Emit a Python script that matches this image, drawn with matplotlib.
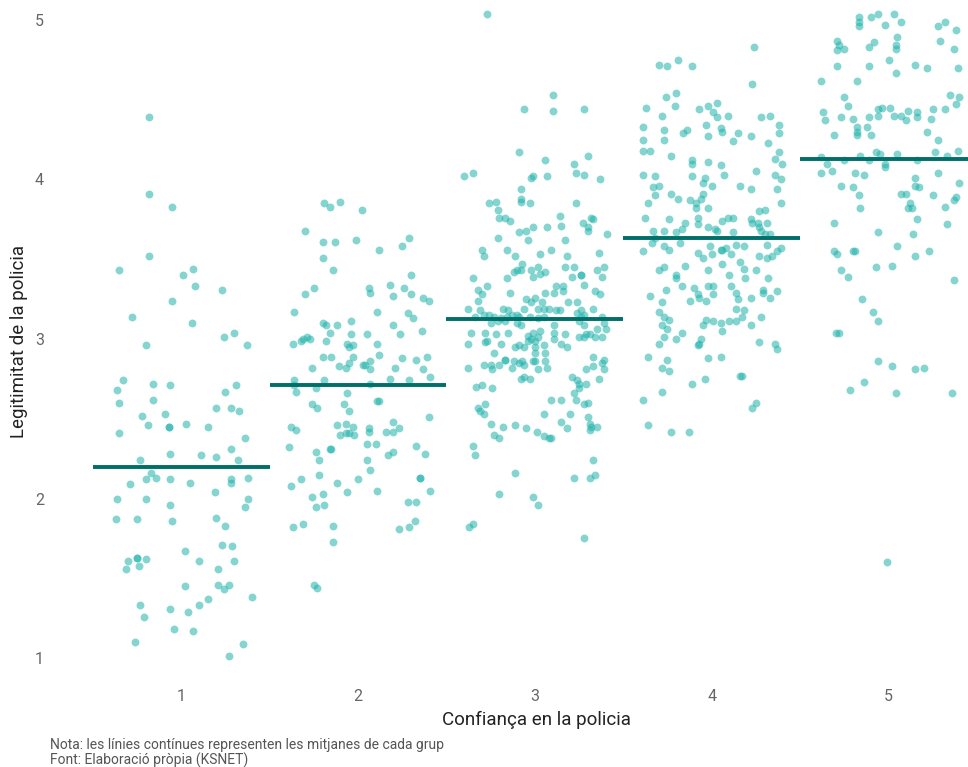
import matplotlib
matplotlib.use("Agg")
import matplotlib.pyplot as plt

# Confiança en la policia (grups) i mitjana de legitimitat per grup
grups = [1, 2, 3, 4, 5]
mitjanes = [2.20, 2.71, 3.125, 3.63, 4.13]

# --- Grup 1: desplaçament horitzontal (jitter) i valor de legitimitat ---
off1 = [-0.18, -0.18, -0.05, -0.18, -0.35, 0.01, 0.07, 0.08, 0.23, -0.05, -0.28, 0.06, 0.30, 0.24, -0.20, 0.37,
        -0.33, -0.16, -0.06, 0.31, -0.36, 0.25, -0.35, -0.16, 0.20, 0.28, 0.33, -0.22, -0.09, -0.19, -0.07, -0.07,
        0.03, 0.15, -0.35, 0.36, 0.28, -0.06, 0.11, 0.20, -0.23, 0.32,
        -0.17, -0.14, -0.20, -0.06, 0.05, 0.28, 0.28, 0.38, -0.29, 0.19, -0.36, -0.20, 0.38, -0.06, 0.36, -0.37,
        -0.25, -0.05, 0.20, 0.25, 0.23, 0.29, 0.02, -0.25, -0.25, -0.30, -0.20, -0.24, -0.31, 0.10, 0.30, 0.21,
        0.02, 0.21, 0.27, 0.24, 0.40, 0.15, 0.10, -0.23, -0.06, 0.04, -0.21, -0.04, 0.07, -0.26, 0.35, 0.27]
y1 = [4.39, 3.91, 3.83, 3.52, 3.43, 3.40, 3.44, 3.33, 3.31, 3.24, 3.14, 3.10, 3.04, 3.01, 2.96, 2.96,
      2.74, 2.72, 2.71, 2.71, 2.68, 2.67, 2.60, 2.62, 2.57, 2.57, 2.55, 2.52, 2.53, 2.46, 2.45, 2.45,
      2.47, 2.45, 2.41, 2.38, 2.31, 2.28, 2.27, 2.26, 2.24, 2.24,
      2.16, 2.13, 2.12, 2.12, 2.10, 2.12, 2.10, 2.13, 2.09, 2.04, 2.00, 2.00, 2.00, 1.96, 1.95, 1.87,
      1.87, 1.86, 1.88, 1.83, 1.71, 1.70, 1.67, 1.63, 1.63, 1.61, 1.62, 1.58, 1.56, 1.61, 1.61, 1.56,
      1.45, 1.46, 1.46, 1.43, 1.38, 1.37, 1.33, 1.33, 1.31, 1.29, 1.26, 1.18, 1.17, 1.10, 1.09, 1.01]

# --- Grup 2 ---
off2 = [-0.19, -0.16, -0.10, 0.02, -0.30, -0.20, -0.13, -0.01, 0.12, 0.25,
        0.29, -0.20, -0.14, 0.30, -0.25, -0.30, 0.06, 0.07, 0.18, 0.26,
        0.20, 0.30, 0.37, 0.40, -0.36, 0.11, 0.28, 0.31, -0.20, -0.18,
        -0.12, -0.04, 0.20, -0.16, -0.04, 0.05, 0.24, 0.36, -0.37, -0.32,
        -0.31, -0.29, -0.27, -0.18, -0.06, -0.05, -0.03, 0.11, -0.20, -0.15,
        -0.03, 0.12, 0.25, 0.33, 0.39, -0.26, -0.11, -0.07, -0.05, 0.03,
        0.04, 0.07, 0.07, 0.21, 0.37, 0.41, 0.18, 0.29, -0.36, -0.19,
        -0.36, 0.07, -0.35, -0.24, -0.06, -0.26, 0.11, 0.12, -0.23, -0.08,
        -0.05, -0.38, -0.35, -0.12, -0.07, -0.03, -0.10, -0.07, -0.05, -0.02,
        0.06, 0.06, 0.16, 0.20, 0.20, 0.23, 0.40, -0.39, -0.24, -0.22,
        -0.16, -0.15, 0.05, 0.10, 0.17, 0.20, 0.33, 0.38, 0.05, 0.07,
        -0.22, -0.32, -0.38, -0.12, 0.00, -0.06, 0.11, 0.35, 0.35, 0.41,
        -0.26, -0.20, -0.24, -0.19, 0.28, 0.33, -0.37, -0.31, -0.14, 0.32,
        0.29, 0.23, -0.14, -0.25, -0.23]
y2 = [3.85, 3.83, 3.86, 3.81, 3.68, 3.61, 3.61, 3.62, 3.56, 3.58,
      3.63, 3.51, 3.43, 3.40, 3.32, 3.28, 3.32, 3.29, 3.34, 3.32,
      3.27, 3.28, 3.26, 3.24, 3.17, 3.17, 3.16, 3.13, 3.10, 3.09,
      3.09, 3.11, 3.09, 3.04, 3.03, 3.03, 3.03, 3.05, 2.97, 2.99,
      3.00, 3.01, 3.00, 2.99, 2.97, 2.95, 2.96, 2.97, 2.89, 2.89,
      2.89, 2.90, 2.88, 2.87, 2.89, 2.82, 2.83, 2.82, 2.85, 2.84,
      2.84, 2.81, 2.86, 2.82, 2.81, 2.76, 2.75, 2.74, 2.74, 2.74,
      2.71, 2.72, 2.67, 2.69, 2.66, 2.59, 2.61, 2.61, 2.57, 2.59,
      2.55, 2.45, 2.43, 2.46, 2.47, 2.45, 2.40, 2.41, 2.41, 2.40,
      2.44, 2.42, 2.42, 2.48, 2.42, 2.44, 2.51, 2.32, 2.29, 2.24,
      2.31, 2.31, 2.34, 2.34, 2.27, 2.29, 2.33, 2.28, 2.24, 2.18,
      2.15, 2.12, 2.08, 2.10, 2.12, 2.04, 2.05, 2.13, 2.13, 2.05,
      2.01, 2.03, 1.95, 1.96, 1.98, 1.98, 1.82, 1.84, 1.83, 1.86,
      1.82, 1.81, 1.73, 1.46, 1.44]

# --- Grup 3 ---
off3 = [-0.27, 0.10, -0.06, 0.10, 0.28, -0.09, 0.30, 0.06, 0.22, -0.40,
        -0.35, -0.02, -0.01, 0.07, 0.23, 0.28, 0.37, -0.08, -0.08, -0.08,
        -0.03, -0.26, -0.22, 0.23, -0.21, -0.20, -0.17, -0.14, 0.14, 0.32,
        0.33, 0.27, 0.15, -0.09, -0.05, -0.01, 0.07, 0.30, 0.30, 0.41,
        -0.21, -0.04, 0.17, -0.30, -0.29, -0.16, 0.09, -0.11, 0.03, 0.18,
        0.36, -0.07, -0.12, -0.10, -0.08, -0.02, 0.02, 0.03, 0.06, -0.01,
        0.17, 0.22, 0.26, 0.26, 0.21, 0.35, 0.39, 0.38, -0.35, -0.16,
        0.28, -0.32, -0.27, 0.12, 0.16, -0.30, -0.32, -0.14, 0.06, 0.11,
        0.16, 0.34, 0.37, -0.05, 0.00, -0.02, 0.04, 0.19, 0.24, -0.38,
        -0.18, -0.15, -0.06, 0.02, 0.05, 0.08, 0.12, 0.14, 0.33, 0.26,
        -0.31, -0.34, -0.29, -0.26, -0.23, -0.19, -0.16, -0.13, -0.10, -0.09,
        -0.03, 0.02, 0.05, 0.24, 0.26, 0.28, 0.38, -0.25, -0.21, -0.17,
        -0.10, -0.08, 0.11, 0.25, 0.28, 0.39, 0.40, -0.36, -0.28, -0.22,
        -0.15, -0.04, -0.01, 0.03, 0.11, 0.17, 0.29, 0.31, 0.35, -0.38,
        -0.28, -0.27, -0.19, -0.04, -0.02, 0.00, 0.02, 0.11, 0.15, 0.18,
        0.25, 0.28, 0.34, 0.38, -0.11, -0.09, -0.06, 0.00, 0.05, -0.23,
        0.00, 0.06, 0.33, -0.17, -0.17, -0.12, -0.09, -0.07, -0.01, 0.00,
        0.06, 0.39, -0.29, -0.25, -0.20, -0.13, -0.06, 0.02, 0.07, 0.33,
        0.29, 0.38, -0.38, -0.24, 0.39, -0.08, -0.06, -0.03, 0.21, 0.24,
        0.25, 0.29, 0.36, -0.33, -0.30, -0.24, 0.25, 0.22, 0.23, 0.09,
        0.15, -0.32, -0.28, -0.31, -0.29, 0.28, 0.30, 0.05, 0.20, 0.30,
        -0.25, -0.18, -0.11, 0.15, 0.31, 0.32, 0.35, 0.18, 0.31, -0.05,
        0.01, -0.23, -0.20, 0.05, 0.08, 0.09, -0.35, -0.34, 0.33, -0.11,
        0.22, 0.31, 0.34, -0.20, -0.01, 0.02, -0.37, -0.35, 0.28]
y3 = [5.04, 4.53, 4.44, 4.43, 4.44, 4.17, 4.15, 4.12, 4.10, 4.02,
      4.04, 4.01, 4.02, 4.02, 4.04, 4.03, 4.00, 3.94, 3.88, 3.86,
      3.85, 3.85, 3.86, 3.85, 3.81, 3.76, 3.76, 3.74, 3.77, 3.76,
      3.75, 3.73, 3.71, 3.67, 3.68, 3.70, 3.70, 3.70, 3.68, 3.66,
      3.63, 3.62, 3.62, 3.56, 3.52, 3.56, 3.56, 3.52, 3.53, 3.52,
      3.54, 3.47, 3.42, 3.43, 3.43, 3.43, 3.45, 3.41, 3.42, 3.39,
      3.45, 3.45, 3.40, 3.40, 3.39, 3.43, 3.45, 3.39, 3.38, 3.38,
      3.34, 3.31, 3.33, 3.33, 3.33, 3.28, 3.24, 3.29, 3.29, 3.29,
      3.30, 3.30, 3.28, 3.25, 3.26, 3.23, 3.23, 3.23, 3.23, 3.19,
      3.19, 3.18, 3.19, 3.19, 3.19, 3.19, 3.18, 3.18, 3.19, 3.18,
      3.18, 3.14, 3.15, 3.15, 3.14, 3.13, 3.14, 3.15, 3.15, 3.14,
      3.14, 3.13, 3.14, 3.16, 3.14, 3.15, 3.14, 3.10, 3.11, 3.11,
      3.10, 3.09, 3.09, 3.11, 3.09, 3.10, 3.06, 3.04, 3.04, 3.03,
      3.04, 3.02, 3.04, 3.05, 3.04, 3.03, 3.03, 3.03, 3.06, 2.97,
      2.98, 2.99, 2.97, 2.99, 3.00, 2.99, 3.01, 3.00, 2.97, 2.95,
      3.01, 3.01, 3.01, 3.01, 2.95, 2.96, 2.95, 2.95, 2.96, 2.91,
      2.91, 2.91, 2.89, 2.87, 2.87, 2.86, 2.85, 2.86, 2.86, 2.86,
      2.86, 2.87, 2.84, 2.84, 2.84, 2.82, 2.84, 2.81, 2.82, 2.83,
      2.81, 2.85, 2.82, 2.81, 2.81, 2.75, 2.76, 2.75, 2.76, 2.74,
      2.72, 2.72, 2.75, 2.70, 2.71, 2.69, 2.69, 2.66, 2.62, 2.62,
      2.62, 2.57, 2.59, 2.55, 2.53, 2.59, 2.60, 2.53, 2.53, 2.51,
      2.47, 2.45, 2.46, 2.48, 2.47, 2.45, 2.45, 2.44, 2.43, 2.44,
      2.42, 2.40, 2.38, 2.39, 2.38, 2.38, 2.33, 2.27, 2.24, 2.16,
      2.13, 2.13, 2.15, 2.03, 2.01, 1.96, 1.82, 1.84, 1.75]

# --- Grup 4 ---
off4 = [0.24, -0.30, -0.25, -0.19, -0.11, 0.23, -0.26, -0.20, -0.21, -0.37,
        -0.28, -0.07, -0.02, 0.03, 0.01, 0.03, 0.09, 0.28, 0.33, -0.39,
        -0.27, 0.38, -0.03, 0.05, 0.06, -0.16, -0.14, 0.15, 0.38, -0.39,
        -0.27, -0.02, 0.12, 0.22, 0.32, -0.39, -0.35, -0.23, 0.38, 0.36,
        0.40, -0.11, -0.11, -0.02, 0.05, -0.39, -0.32, -0.11, -0.04, 0.07,
        0.25, 0.36, 0.39, -0.05, -0.33, -0.30, 0.00, 0.16, 0.22, 0.37,
        -0.32, -0.23, -0.19, -0.05, -0.06, -0.36, -0.12, -0.09, -0.09, -0.02,
        0.39, 0.27, 0.30, -0.38, -0.24, -0.08, -0.08, -0.15, 0.06, 0.09,
        0.12, 0.22, 0.23, 0.26, 0.31, -0.02, 0.02, 0.03, 0.12, -0.33,
        -0.27, -0.20, -0.17, 0.27, 0.28, 0.30, 0.33, -0.32, -0.18, -0.34,
        -0.27, -0.24, -0.01, 0.05, 0.06, 0.08, 0.14, 0.18, 0.31, 0.39,
        -0.39, -0.08, -0.05, 0.00, 0.11, 0.27, 0.31, 0.34, 0.37, 0.06,
        0.16, -0.15, -0.30, -0.27, -0.02, 0.18, 0.25, -0.20, 0.10, 0.19,
        0.32, -0.20, -0.17, -0.26, -0.35, -0.28, -0.10, -0.08, -0.07, -0.12,
        -0.03, -0.02, 0.01, 0.01, 0.11, 0.14, 0.15, 0.22, 0.29, 0.29,
        0.33, 0.37, -0.30, -0.27, -0.24, -0.28, -0.25, -0.27, -0.30, -0.17,
        -0.20, 0.14, 0.18, 0.17, -0.03, -0.05, 0.01, 0.05, 0.06, 0.10,
        0.14, 0.22, 0.28, -0.06, -0.07, -0.08, 0.27, 0.36, 0.37, -0.36,
        -0.25, -0.28, -0.24, -0.02, 0.05, -0.04, -0.11, 0.16, 0.17, -0.28,
        -0.39, 0.25, 0.23, -0.36, -0.23, -0.13]
y4 = [4.83, 4.72, 4.71, 4.75, 4.71, 4.60, 4.52, 4.54, 4.46, 4.45,
      4.40, 4.44, 4.46, 4.48, 4.42, 4.39, 4.40, 4.39, 4.40, 4.33,
      4.31, 4.34, 4.34, 4.32, 4.30, 4.29, 4.31, 4.29, 4.29, 4.25,
      4.25, 4.27, 4.24, 4.27, 4.23, 4.18, 4.18, 4.15, 4.17, 4.13,
      4.10, 4.12, 4.10, 4.11, 4.09, 4.03, 4.02, 4.02, 4.01, 4.03,
      4.05, 4.03, 4.00, 3.98, 3.95, 3.96, 3.96, 3.96, 3.94, 3.94,
      3.90, 3.91, 3.88, 3.91, 3.88, 3.85, 3.87, 3.85, 3.82, 3.82,
      3.85, 3.80, 3.81, 3.76, 3.75, 3.76, 3.72, 3.73, 3.74, 3.76,
      3.76, 3.75, 3.73, 3.73, 3.73, 3.70, 3.69, 3.68, 3.67, 3.68,
      3.68, 3.67, 3.69, 3.70, 3.68, 3.66, 3.66, 3.63, 3.60, 3.60,
      3.58, 3.56, 3.58, 3.56, 3.56, 3.57, 3.59, 3.58, 3.59, 3.57,
      3.55, 3.54, 3.51, 3.53, 3.53, 3.52, 3.51, 3.52, 3.55, 3.47,
      3.48, 3.46, 3.43, 3.45, 3.43, 3.44, 3.43, 3.40, 3.40, 3.38,
      3.38, 3.38, 3.33, 3.31, 3.27, 3.23, 3.32, 3.28, 3.26, 3.24,
      3.24, 3.33, 3.33, 3.28, 3.33, 3.29, 3.25, 3.26, 3.31, 3.29,
      3.26, 3.30, 3.17, 3.14, 3.12, 3.09, 3.06, 3.01, 2.97, 3.04,
      3.00, 3.19, 3.18, 3.14, 3.12, 3.09, 3.11, 3.10, 3.05, 3.11,
      3.11, 3.09, 3.14, 3.00, 2.97, 2.96, 2.98, 2.97, 2.94, 2.89,
      2.87, 2.82, 2.80, 2.88, 2.89, 2.75, 2.72, 2.77, 2.77, 2.67,
      2.62, 2.60, 2.57, 2.46, 2.42, 2.42]

# --- Grup 5 ---
off5 = [-0.17, -0.17, -0.17, -0.10, -0.06, 0.03, 0.07, -0.02, 0.28, 0.32,
        0.38, 0.05, -0.29, -0.28, -0.29, -0.25, -0.11, -0.08, 0.04, 0.04,
        0.29, 0.37, 0.00, -0.29, -0.11, 0.04, 0.15, 0.22, 0.39, -0.38,
        -0.18, 0.35, 0.40, -0.25, -0.23, 0.38, -0.37, -0.36, -0.27, -0.20,
        -0.11, -0.06, -0.06, -0.04, 0.01, 0.03, 0.07, 0.11, 0.10, 0.16,
        0.16, 0.24, 0.25, 0.32, -0.18, -0.18, -0.18, -0.12, -0.10, -0.31,
        0.22, 0.28, 0.26, 0.39, -0.38, -0.16, -0.07, -0.05, 0.05, 0.33,
        -0.35, -0.25, -0.11, -0.02, -0.02, 0.16, -0.38, -0.32, -0.19, -0.14,
        0.28, 0.15, 0.40, -0.27, -0.20, 0.15, 0.17, -0.17, 0.07, 0.10,
        0.25, 0.38, 0.37, -0.16, 0.12, 0.11, 0.13, 0.32, 0.16, -0.31,
        0.33, -0.06, 0.14, 0.05, -0.31, -0.29, -0.20, -0.19, 0.15, 0.23,
        -0.27, -0.23, -0.07, 0.02, 0.37, -0.15, -0.09, -0.06, -0.30, -0.28,
        -0.06, 0.02, 0.15, 0.20, -0.14, -0.22, 0.04, 0.36, -0.01]
y5 = [5.02, 4.99, 4.96, 5.02, 5.04, 5.04, 4.99, 4.97, 4.96, 4.99,
      4.94, 4.89, 4.87, 4.84, 4.81, 4.82, 4.83, 4.86, 4.84, 4.82,
      4.87, 4.82, 4.75, 4.71, 4.71, 4.67, 4.72, 4.70, 4.70, 4.62,
      4.62, 4.53, 4.52, 4.52, 4.46, 4.47, 4.42, 4.37, 4.39, 4.38,
      4.39, 4.40, 4.44, 4.45, 4.45, 4.40, 4.40, 4.43, 4.37, 4.42,
      4.39, 4.38, 4.44, 4.44, 4.33, 4.30, 4.28, 4.33, 4.28, 4.28,
      4.30, 4.25, 4.17, 4.18, 4.14, 4.15, 4.17, 4.16, 4.16, 4.15,
      4.10, 4.12, 4.12, 4.10, 4.08, 4.12, 4.04, 4.05, 4.04, 4.03,
      4.04, 4.01, 3.98, 3.96, 3.95, 3.96, 3.95, 3.90, 3.91, 3.91,
      3.90, 3.89, 3.87, 3.82, 3.85, 3.82, 3.82, 3.83, 3.75, 3.73,
      3.72, 3.67, 3.66, 3.58, 3.55, 3.53, 3.55, 3.55, 3.52, 3.55,
      3.43, 3.39, 3.45, 3.46, 3.37, 3.25, 3.17, 3.11, 3.04, 3.04,
      2.86, 2.83, 2.81, 2.82, 2.73, 2.68, 2.66, 2.66, 1.60]

offsets = [off1, off2, off3, off4, off5]
valors = [y1, y2, y3, y4, y5]

# --- Figura ---
fig = plt.figure(figsize=(9.68, 7.67), dpi=100)
ax = fig.add_axes([55 / 968, 1 - 678 / 767, 913 / 968, 678 / 767])

for g, off, yy in zip(grups, offsets, valors):
    ax.scatter([g + o for o in off], yy, s=32, color='#20b2aa', alpha=0.55,
               linewidths=0, zorder=2)

for g, m in zip(grups, mitjanes):
    ax.plot([g - 0.5, g + 0.5], [m, m], color='#006e69', linewidth=2.8,
            solid_capstyle='butt', zorder=3)

ax.set_xlim(0.287, 5.449)
ax.set_ylim(0.875, 5.125)
ax.set_xticks(grups)
ax.set_yticks([1, 2, 3, 4, 5])
ax.tick_params(length=0, labelsize=11.5, labelcolor='#666666', pad=8)
for lab in ax.get_xticklabels() + ax.get_yticklabels():
    lab.set_fontfamily('Roboto')
for s in ax.spines.values():
    s.set_visible(False)

fig.text(536 / 968, 1 - 720 / 767, 'Confiança en la policia', ha='center', va='center',
         fontsize=13.5, color='#222222', family='Roboto')
fig.text(19 / 968, 1 - 341 / 767, 'Legitimitat de la policia', ha='center', va='center',
         rotation=90, fontsize=13.5, color='#222222', family='Roboto')
fig.text(50 / 968, 1 - 745 / 767, 'Nota: les línies contínues representen les mitjanes de cada grup',
         ha='left', va='center', fontsize=10, color='#555555', family='Roboto')
fig.text(50 / 968, 1 - 760 / 767, 'Font: Elaboració pròpia (KSNET)',
         ha='left', va='center', fontsize=10, color='#555555', family='Roboto')

fig.savefig('out.png', dpi=100)
